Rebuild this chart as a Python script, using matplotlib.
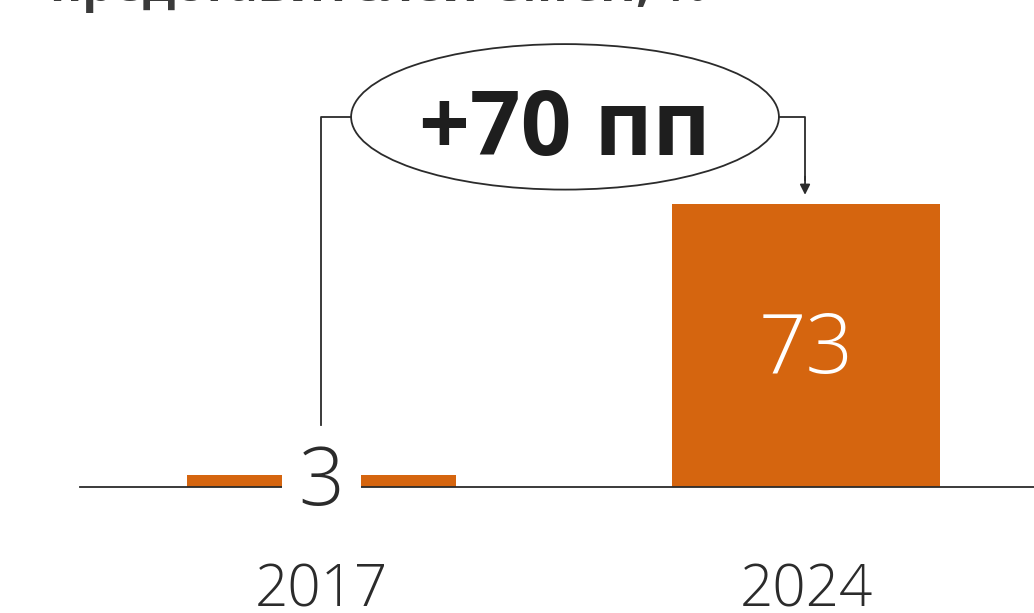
import matplotlib
matplotlib.use("Agg")
import matplotlib.pyplot as plt
from matplotlib.patches import Ellipse

# Data
years = ["2017", "2024"]
values = [3, 73]
change_label = "+70 пп"
title = "представителей СМСП, %"

ORANGE = "#D5650F"
DARK = "#2B2B2B"

W, H, DPI = 1034, 613, 100
fig = plt.figure(figsize=(W / DPI, H / DPI), dpi=DPI)
ax = fig.add_axes([0, 0, 1, 1])

# scale: 3.88 px per unit, baseline 126 px from bottom; 484.5 px between categories
py = 3.88
px = 484.5
ax.set_ylim(-126 / py, (H - 126) / py)
ax.set_xlim(-321.5 / px, (W - 321.5) / px)
ax.axis("off")

x = list(range(len(years)))
ax.bar(x, values, width=0.555, color=ORANGE, zorder=2)
ax.axhline(0, xmin=80 / W, xmax=1, color=DARK, lw=1.3, zorder=3)

light = dict(family=["Open Sans", "DejaVu Sans"], fontweight="light")

# value labels
ax.text(x[0], 3.3, str(values[0]), ha="center", va="center_baseline",
        fontsize=58, color=DARK, zorder=5,
        bbox=dict(boxstyle="square,pad=0.2", fc="white", ec="none"), **light)
ax.text(x[1], values[1] / 2 + 1.0, str(values[1]), ha="center", va="center_baseline",
        fontsize=60, color="white", zorder=5, **light)

# year labels
for xi, yr in zip(x, years):
    ax.text(xi, -25.0, yr, ha="center", va="center_baseline", fontsize=42,
            color=DARK, **light)

# change bracket
yb = 95.4
ecx, ew, eh = 0.5026, 0.883, 37.5
ax.plot([x[0], x[0], ecx - ew / 2], [values[0] + 13, yb, yb], color=DARK, lw=1.3, zorder=4)
ax.add_patch(Ellipse((ecx, yb), ew, eh, fc="white", ec=DARK, lw=1.3, zorder=4))
ax.plot([ecx + ew / 2, x[1] - 0.002, x[1] - 0.002], [yb, yb, values[1] + 6],
        color=DARK, lw=1.3, zorder=4)
ax.annotate("", xy=(x[1] - 0.002, values[1] + 2.3), xytext=(x[1] - 0.002, values[1] + 7),
            arrowprops=dict(arrowstyle="-|>,head_length=0.6,head_width=0.3",
                            color=DARK, lw=1.3, shrinkA=0, shrinkB=0), zorder=4)
ax.text(ecx, yb - 1.0, change_label, ha="center", va="center_baseline", fontsize=64,
        fontweight="bold", color="#1E1E1E", family=["Open Sans", "DejaVu Sans"], zorder=5)

# title, partly above the top edge
fig.text(50 / W, 1 - 1 / H, title, ha="left", va="baseline", fontsize=35.5,
         fontweight="bold", color="#3A3A3A", family=["Open Sans", "DejaVu Sans"])

fig.savefig("out.png", dpi=DPI)
